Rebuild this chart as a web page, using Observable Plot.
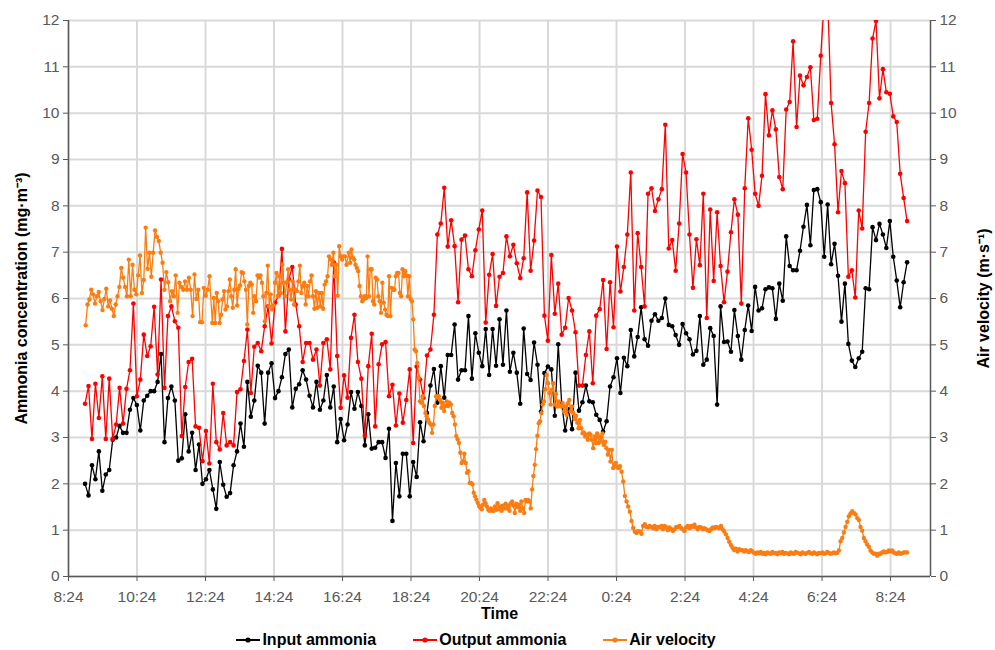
<!DOCTYPE html>
<html><head><meta charset="utf-8">
<script src="https://cdn.jsdelivr.net/npm/d3@7"></script>
<script src="https://cdn.jsdelivr.net/npm/@observablehq/plot@0.6"></script>
<style>
body{margin:0;background:#fff;font-family:"Liberation Sans Narrow","Arial Narrow","Liberation Sans",Arial,sans-serif;}
#legend{display:flex;justify-content:center;gap:36px;height:24px;align-items:center;font-weight:bold;font-size:16px;color:#000;transform:translateX(-22px) translateY(2px)}
.item{display:flex;align-items:center;gap:1px}
</style></head><body><div id="chart"></div><div id="legend"></div>
<script>
// Input / output ammonia (mg·m-3), sampled evenly from sampleStart to sampleEnd
const sampleStart = "2021-06-01T08:53Z", sampleEnd = "2021-06-02T08:53Z";
const inputAmmonia = [
2.0,1.75,2.4,2.1,2.7,1.85,2.2,2.3,2.95,3.0,
3.25,3.1,3.1,3.6,3.85,3.7,3.15,3.8,3.9,4.0,
4.0,4.2,4.8,2.9,3.85,4.1,3.8,2.5,2.55,3.5,
2.7,3.1,2.3,2.85,2.0,2.1,2.3,1.88,1.46,2.47,
1.98,1.72,1.8,2.4,2.7,3.3,2.8,4.2,3.45,3.8,
4.55,4.4,3.3,4.4,4.6,3.85,4.0,4.3,4.8,4.9,
3.65,4.05,4.15,4.45,4.25,3.9,3.65,4.2,3.6,3.8,
4.35,3.65,4.1,2.9,3.4,2.94,3.28,3.98,3.62,3.98,
3.68,2.83,3.5,2.76,2.78,2.9,2.9,2.56,3.19,1.2,
2.45,1.73,2.65,2.65,1.73,2.47,2.15,3.33,2.92,3.53,
4.12,4.48,3.75,4.54,3.86,4.78,4.78,5.44,4.25,4.45,
4.45,5.62,4.27,5.25,4.83,4.54,5.34,4.35,5.34,4.55,
5.55,4.57,5.74,4.42,4.83,4.4,3.73,5.35,4.37,4.24,
5.05,4.57,3.56,4.39,4.53,4.47,3.47,5.01,3.73,3.15,
3.61,3.18,4.4,3.58,3.76,4.12,3.78,3.76,3.49,3.38,
3.13,3.35,4.1,4.3,4.71,3.96,4.72,4.54,5.32,4.75,
5.17,5.81,5.12,4.98,5.52,5.66,5.52,5.58,6.0,5.43,
5.4,5.21,5.0,5.45,5.25,5.12,4.79,4.87,5.62,4.57,
4.68,5.36,5.19,3.71,5.83,5.06,5.07,4.85,5.75,5.19,
4.68,5.32,5.85,5.3,6.25,5.74,5.79,6.2,6.24,6.22,
5.56,6.32,5.95,7.34,6.7,6.61,6.61,7.03,7.55,8.02,
7.15,8.34,8.36,8.08,6.9,8.03,6.74,7.18,6.49,5.5,
6.32,5.02,4.66,4.52,4.71,4.85,6.22,6.2,7.54,7.26,
7.61,7.38,7.09,7.67,6.9,6.39,5.81,6.35,6.78];
const outputAmmonia = [
3.73,4.11,2.97,4.16,3.42,4.32,2.97,4.27,2.97,3.28,
4.07,3.3,4.05,4.45,5.89,3.89,4.25,5.22,4.76,4.97,
5.82,4.36,6.41,4.07,5.62,5.83,5.51,5.37,3.03,4.09,
4.63,4.7,3.24,3.21,2.49,3.14,2.44,4.16,2.9,2.74,
3.53,2.83,2.9,2.83,3.98,4.04,4.65,5.33,3.96,4.96,
5.04,4.86,5.4,5.83,5.03,5.91,6.06,7.07,5.29,6.42,
6.68,5.87,5.4,4.63,5.04,5.04,4.68,4.9,4.12,5.04,
5.12,4.47,6.78,4.76,3.64,4.34,3.86,5.15,5.65,4.63,
4.27,3.04,4.54,5.24,3.24,4.58,5.01,5.06,3.89,4.14,
3.26,3.95,3.32,3.81,4.47,2.88,4.53,4.25,3.86,4.77,
4.9,5.65,7.38,7.62,8.39,7.12,7.69,7.13,5.92,7.27,
7.36,6.63,6.48,7.04,7.49,7.9,5.48,6.51,6.96,5.84,
6.47,6.55,7.34,6.91,7.16,6.76,6.44,6.87,8.29,6.6,
7.25,8.33,8.19,5.63,5.09,6.94,5.67,6.32,5.22,5.37,
6.01,5.74,5.27,4.12,4.12,4.78,5.29,4.17,5.63,5.77,
6.4,4.91,6.35,5.38,7.12,6.15,6.68,7.38,8.72,5.74,
7.41,6.68,5.83,8.26,8.38,7.89,8.14,8.36,9.75,7.08,
7.26,6.6,7.62,9.12,8.72,7.38,6.23,7.28,6.72,8.26,
5.58,7.92,6.38,7.86,6.7,5.92,6.58,7.43,8.14,7.81,
5.89,8.38,9.89,9.21,8.26,8.0,8.65,10.41,9.52,10.06,
9.65,8.62,8.36,10.08,10.24,11.55,9.7,10.81,10.6,10.78,
10.99,9.85,9.88,11.24,12.4,12.5,10.22,9.33,7.86,8.75,
8.49,6.47,6.61,6.02,7.9,7.51,9.6,10.22,11.61,11.99,
10.32,10.95,10.45,10.42,9.93,9.81,8.69,8.17,7.67];

// Air velocity (m·s-1), logged in runs; each run is evenly spaced between its start and end
const airVelocityA = [5.42,5.87,5.98,6.19,6.09,5.89,6.05,6.14,5.94,5.75,
5.99,6.21,5.83,5.96,5.78,5.62,5.87,6.05,6.25,6.66,6.45,6.25,6.05,6.84,6.05,6.73,6.19,6.09,6.5,6.93,
6.12,6.4,7.53,6.64,6.99,6.47,6.99,7.47,7.33,7.24,6.99,6.77,6.19,6.57,6.35,5.94,6.16,6.05,6.5,5.69,
6.34,6.25,6.19,6.37,6.19,6.45,6.19,5.62,6.52,5.99,6.19,5.49,5.49,6.23,6.06,6.19,6.48];
const airVelocityB = [5.47,6.01,5.47,6.12,5.94,5.47,5.65,5.98,6.16,5.76,5.83,6.16,6.41,6.05,5.8,6.19,6.63,5.85,6.21,6.28,
6.57,6.55,6.37,6.19,5.44,6.27,6.34,6.3,5.69,6.05,5.94,6.5,6.45,6.5,6.34,6.05,5.51,6.12,6.71,5.83,
6.09,5.76,5.85,6.34,6.55,6.05,6.48,6.12,6.73,6.34,6.05,6.35,6.63,6.19,5.98,6.37,5.87,6.19,6.16,6.37,
6.71,6.12,6.27,6.34,5.87,6.27,6.05,6.37,6.5,6.05,5.78,6.16,5.8,6.12,5.83,6.12,5.78,6.3,6.37,6.48,
6.91,6.84,6.73,6.99,6.48,6.73,6.06,7.13,6.91,6.84,6.91,6.91,6.73];
const airVelocityC = [6.99,6.77,7.06,6.88,6.84,6.73,6.66,6.59,6.27,6.05,5.94,5.98,6.05,6.01,6.91,6.05,6.63,6.63,5.94,5.87,
6.45,6.41,6.05,5.94,5.69,6.34,5.91,5.76,5.65,5.62,6.48,5.62,6.23,6.19,6.19,6.48,6.55,6.55,6.12,6.05,
6.63,6.48,6.59,6.5,6.05,6.48,5.99,5.94,5.55,4.9,4.86,4.61,4.29,3.78,3.75,3.89,3.68,3.53,3.46,3.39,
3.32,3.28,3.1,3.28,3.68,3.89,3.86,3.89,3.81,3.64,3.75,3.57,3.68,3.78,3.68,3.75,3.71,3.53,3.46,3.28,
3.03,2.96,2.88,2.67,2.45,2.49,2.65,2.45,2.24,2.27,2.02,2.02,1.99,1.81,1.73,1.66,1.59,1.52,1.48,1.45];
const airVelocityD = [1.55,1.65,1.58,1.51,1.44,1.42,1.47,1.42,1.42,1.51,1.44,1.58,1.45,1.51,1.42,1.53,1.47,1.57,1.47,1.53,
1.42,1.58,1.62,1.53,1.37,1.57,1.5,1.55,1.42,1.62,1.47,1.37,1.65,1.62,1.65,1.62,1.47,1.88,2.17,2.41,
2.75,3.04,3.31,3.35,3.53,3.71,3.78,4.04,4.35,4.17,3.96,3.71,4.03,4.17,3.71,3.94,3.67,3.78,3.68,3.67,
3.74,3.56,3.67,3.49,3.74,3.81,3.56,3.67,3.53,3.4,3.47,3.32,3.2,3.38,3.2,3.09,3.11,3.02,3.06,2.95,
3.09,3.06,2.95,2.77,3.02,2.88,3.09,2.88,3.02,2.91,3.09,2.84,2.91,2.77,2.63,2.73,2.48,2.73,2.34,2.41,2.45,2.37];
const airVelocityE = [2.34,2.38,2.26,2.05,1.74,1.62,1.51,1.4,1.2,1.05,0.97,0.94,0.98,0.97,0.92,1.09,1.13,1.07,1.06,1.09,
1.07,1.04,1.09,1.02,1.07,1.06,1.09,1.02,1.09,1.06,1.0,1.06,1.02,0.98,1.02,1.07,1.07,1.09,1.04,1.02,
0.98,1.06,1.09,1.04,1.09,1.07,1.12,1.06,1.02,1.07,1.06,1.02,1.04,1.02,1.0,0.98,1.02,1.06,1.04,1.07,
1.06,1.04,1.09,1.02,0.97,0.91,0.83,0.75,0.68,0.62,0.57,0.6,0.54,0.59,0.57,0.57,0.54,0.57,0.54,0.53,0.57,0.54];
const airVelocityF = [0.51,0.49,0.52,0.5,0.53,0.49,0.51,0.48,0.52,0.5,0.49,0.53,0.5,0.51,0.48,0.52,0.5,0.53,0.49,0.51,
0.5,0.48,0.52,0.5,0.49,0.53,0.51,0.5,0.48,0.52,0.5,0.49,0.51,0.53,0.5,0.49,0.52,0.5,0.48,0.51,
0.5,0.52,0.49,0.5,0.53,0.51,0.49,0.5,0.52,0.5,0.51,0.56,0.76,0.83,0.95,1.07,1.18,1.3,1.36,1.41,
1.37,1.34,1.26,1.22,1.07,0.99,0.83,0.76,0.69,0.64,0.56,0.52,0.49,0.49,0.45,0.49,0.49,0.52,0.54,0.52,
0.53,0.56,0.54,0.56,0.52,0.5,0.49,0.52,0.49,0.5,0.52,0.52,0.52];
const airRuns = [
  ["2021-06-01T08:54Z","2021-06-01T12:31Z", airVelocityA],
  ["2021-06-01T12:36Z","2021-06-01T16:31Z", airVelocityB],
  ["2021-06-01T16:35Z","2021-06-01T20:28Z", airVelocityC],
  ["2021-06-01T20:30Z","2021-06-02T00:25Z", airVelocityD],
  ["2021-06-02T00:27Z","2021-06-02T04:22Z", airVelocityE],
  ["2021-06-02T04:25Z","2021-06-02T08:53Z", airVelocityF]];

const xStart = "2021-06-01T08:24Z", xEnd = "2021-06-02T09:34Z";
const xTickLabels = ["8:24","10:24","12:24","14:24","16:24","18:24","20:24","22:24","0:24","2:24","4:24","6:24","8:24"];
const yTicks = [0,1,2,3,4,5,6,7,8,9,10,11,12];

const colInput = "#000000", colOutput = "#ff0000", colAir = "#fb7d12";

function spread(from, to, values) {
  const a = +new Date(from), b = +new Date(to);
  return values.map((v, i) => ({time: new Date(a + (b - a) * i / (values.length - 1)), value: v}));
}
const input = spread(sampleStart, sampleEnd, inputAmmonia);
const output = spread(sampleStart, sampleEnd, outputAmmonia);
const air = airRuns.flatMap(([f, t, v]) => spread(f, t, v));
const xTicks = xTickLabels.map((_, i) => new Date(+new Date(xStart) + i * 2 * 3600e3));
const labelOf = new Map(xTicks.map((d, i) => [+d, xTickLabels[i]]));

const font = '"Liberation Sans Narrow","Arial Narrow","Liberation Sans",Arial,sans-serif';
const chart = Plot.plot({
  width: 995, height: 626,
  marginLeft: 68, marginRight: 65, marginTop: 20, marginBottom: 50,
  style: {fontFamily: font, fontSize: "15px", color: "#595959", background: "#fff"},
  x: {type: "utc", domain: [new Date(xStart), new Date(xEnd)]},
  y: {domain: [0, 12]},
  marks: [
    Plot.gridX(xTicks, {stroke: "#d9d9d9", strokeOpacity: 1, strokeWidth: 2}),
    Plot.gridY(yTicks, {stroke: "#d9d9d9", strokeOpacity: 1, strokeWidth: 2}),
    Plot.line(input, {x: "time", y: "value", stroke: colInput, strokeWidth: 1.3, clip: true}),
    Plot.dot(input, {x: "time", y: "value", r: 2.3, fill: colInput, clip: true}),
    Plot.line(output, {x: "time", y: "value", stroke: colOutput, strokeWidth: 1.3, clip: true}),
    Plot.dot(output, {x: "time", y: "value", r: 2.3, fill: colOutput, clip: true}),
    Plot.line(air, {x: "time", y: "value", stroke: colAir, strokeWidth: 1.3, clip: true}),
    Plot.dot(air, {x: "time", y: "value", r: 2.2, fill: colAir, clip: true}),
    Plot.ruleY([0], {stroke: "#595959", strokeWidth: 1.5}),
    Plot.ruleX([new Date(xStart), new Date(xEnd)], {stroke: "#595959", strokeWidth: 1.5}),
    Plot.axisX(xTicks, {tickFormat: d => labelOf.get(+d), tickSize: 5, tickPadding: 9, label: null, stroke: "#595959", fill: "#595959", fontSize: 15.5}),
    Plot.axisY(yTicks, {anchor: "left", tickSize: 5, tickPadding: 4, label: null, stroke: "#595959", fill: "#595959", fontSize: 15.5}),
    Plot.axisY(yTicks, {anchor: "right", tickSize: 5, tickPadding: 4, label: null, stroke: "#595959", fill: "#595959", fontSize: 15.5}),
    Plot.text(["Ammonia concentration (mg·m⁻³)"], {text: d => d, frameAnchor: "left", textAnchor: "middle", dx: -47, rotate: -90, fontWeight: "bold", fill: "#000", fontSize: 16, style: "letter-spacing:0.6px"}),
    Plot.text(["Air velocity (m·s⁻¹)"], {text: d => d, frameAnchor: "right", textAnchor: "middle", dx: 53, rotate: -90, fontWeight: "bold", fill: "#000", fontSize: 16}),
    Plot.text(["Time"], {text: d => d, frameAnchor: "bottom", textAnchor: "middle", dy: 42, fontWeight: "bold", fill: "#000", fontSize: 16})
  ]
});
document.getElementById("chart").append(chart);

const legendItems = [["Input ammonia", colInput], ["Output ammonia", colOutput], ["Air velocity", colAir]];
const legend = d3.select("#legend");
for (const [name, c] of legendItems) {
  const it = legend.append("div").attr("class", "item");
  const s = it.append("svg").attr("width", 26).attr("height", 10);
  s.append("line").attr("x1", 1).attr("x2", 25).attr("y1", 5).attr("y2", 5).attr("stroke", c).attr("stroke-width", 2);
  s.append("circle").attr("cx", 13).attr("cy", 5).attr("r", 2.6).attr("fill", c);
  it.append("span").text(name);
}
</script></body></html>
